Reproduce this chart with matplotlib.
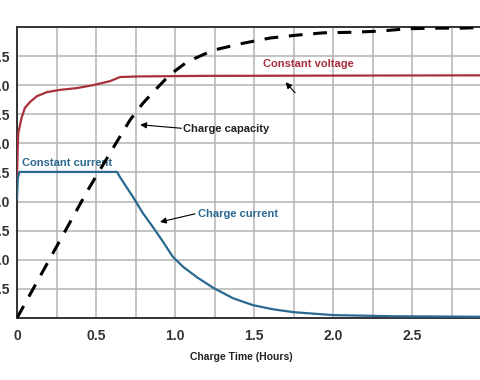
import numpy as np
import matplotlib
matplotlib.use("Agg")
import matplotlib.pyplot as plt

OUT = "out.png"

# charge time (hours) and values
cv_t = [0.0, 0.004, 0.008, 0.03, 0.05, 0.082, 0.125, 0.188, 0.272, 0.378, 0.48,
        0.589, 0.652, 0.757, 1.16, 3.0]
cv_v = [2.45, 2.85, 3.18, 3.45, 3.61, 3.71, 3.81, 3.88, 3.92, 3.95, 4.00,
        4.07, 4.14, 4.15, 4.16, 4.17]

cc_t = [0.0, 0.005, 0.015, 0.633, 0.652, 0.734, 0.797, 0.861, 0.924, 0.987, 1.051,
        1.139, 1.241, 1.367, 1.494, 1.62, 1.75, 2.0, 2.38, 3.0]
cc_i = [2.05, 2.40, 2.51, 2.51, 2.42, 2.08, 1.80, 1.56, 1.31, 1.05, 0.88,
        0.70, 0.52, 0.34, 0.22, 0.15, 0.10, 0.05, 0.03, 0.02]

cap_t = [0.0, 0.449, 0.608, 0.715, 0.797, 0.886, 0.968, 1.076, 1.24, 1.43, 1.60,
         1.77, 1.94, 2.13, 2.30, 2.47, 2.63, 2.82, 3.0]
cap_v = [0.0, 2.20, 2.92, 3.40, 3.69, 3.95, 4.18, 4.40, 4.60, 4.72, 4.81,
         4.86, 4.90, 4.91, 4.93, 4.97, 4.98, 4.98, 5.0]

x_ticks = [0, 0.5, 1.0, 1.5, 2.0, 2.5]
x_labels = ["0", "0.5", "1.0", "1.5", "2.0", "2.5"]
y_ticks = [0.5, 1.0, 1.5, 2.0, 2.5, 3.0, 3.5, 4.0, 4.5]
y_labels = ["0.5", "1.0", "1.5", "2.0", "2.5", "3.0", "3.5", "4.0", "4.5"]

RED = "#a8303c"
BLUE = "#2a6890"
FONT = "Liberation Sans"

fig = plt.figure(figsize=(4.8, 3.8), dpi=100)
ax = fig.add_axes([17 / 480, 62 / 380, 474 / 480, 291 / 380])

ax.plot(cv_t, cv_v, color=RED, lw=1.6, zorder=3, solid_joinstyle="round")
ax.plot(cc_t, cc_i, color=BLUE, lw=1.6, zorder=3, solid_joinstyle="round")
ax.plot(cap_t, cap_v, color="black", lw=2.2, ls=(0, (4.5, 3.5)), zorder=4)

ax.set_xlim(0, 3.0)
ax.set_ylim(0, 5.0)
ax.set_xticks(np.arange(0, 3.01, 0.25), minor=True)
ax.set_xticks(x_ticks)
ax.set_xticklabels(x_labels)
ax.set_yticks(y_ticks)
ax.set_yticklabels(y_labels)
ax.grid(True, which="both", color="#b4b4b4", lw=1.1)
ax.tick_params(which="both", length=0)
ax.tick_params(axis="x", pad=8)
ax.tick_params(axis="y", pad=5)
for lab in ax.get_xticklabels() + ax.get_yticklabels():
    lab.set_fontfamily(FONT)
    lab.set_fontweight("bold")
    lab.set_fontsize(10)
    lab.set_color("#333333")
for s in ["left", "bottom", "top"]:
    ax.spines[s].set_color("#333333")
    ax.spines[s].set_linewidth(1.4)
ax.spines["right"].set_visible(False)

txt = dict(fontfamily=FONT, fontweight="bold", fontsize=8, va="center")
arr = dict(arrowstyle="-|>", color="black", lw=0.8, mutation_scale=9,
           shrinkA=0, shrinkB=0)

ax.text(1.557, 4.36, "Constant voltage", color=RED, ha="left", **txt)
ax.annotate("", xy=(1.70, 4.05), xytext=(1.76, 3.87), arrowprops=arr)

ax.text(1.05, 3.25, "Charge capacity", color="#222222", ha="left", **txt)
ax.annotate("", xy=(0.78, 3.32), xytext=(1.04, 3.26), arrowprops=arr)

ax.text(0.032, 2.66, "Constant current", color=BLUE, ha="left", **txt)

ax.text(1.146, 1.79, "Charge current", color=BLUE, ha="left", **txt)
ax.annotate("", xy=(0.905, 1.65), xytext=(1.127, 1.79), arrowprops=arr)

fig.text(241 / 480, 1 - 357 / 380, "Charge Time (Hours)", ha="center", va="center",
         fontfamily=FONT, fontweight="bold", fontsize=7.5, color="#222222")

fig.savefig(OUT, dpi=100)
